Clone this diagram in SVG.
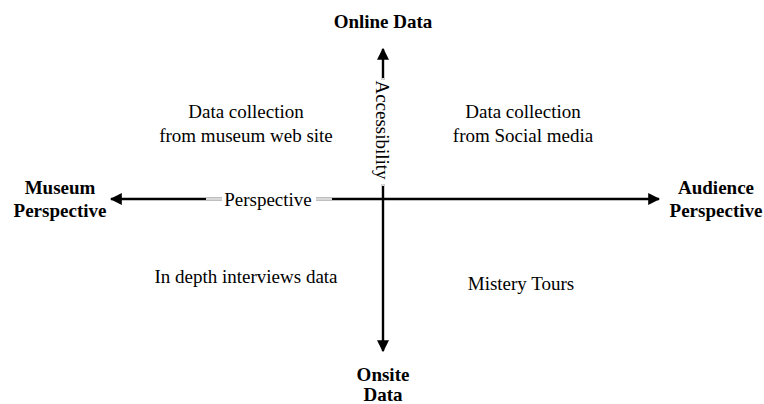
<svg xmlns="http://www.w3.org/2000/svg" width="764" height="404" viewBox="0 0 764 404">
<style>
.t{font-family:"Liberation Serif","Times New Roman",serif;font-size:19px;fill:#000;text-anchor:middle}
.b{font-weight:bold;font-size:19px}
.ax{stroke:#000;stroke-width:2.4;fill:none}
.lbl{stroke:#d8d8d8;stroke-width:2;fill:none}
</style>
<defs>
<marker id="ah" viewBox="0 0 10 10" refX="9" refY="5" markerWidth="5" markerHeight="5" orient="auto" markerUnits="strokeWidth">
<path d="M0,0 L10,5 L0,10 z" fill="#000"/>
</marker>
</defs>
<rect width="764" height="404" fill="#fff"/>
<g id="connectors">
<line class="ax" x1="383" y1="199" x2="383" y2="49" marker-end="url(#ah)"/>
<line class="ax" x1="383" y1="199" x2="383" y2="351" marker-end="url(#ah)"/>
<line class="ax" x1="383" y1="199" x2="111" y2="199" marker-end="url(#ah)"/>
<line class="ax" x1="383" y1="199" x2="659" y2="199" marker-end="url(#ah)"/>
<line class="lbl" x1="383" y1="78" x2="383" y2="186"/>
<rect x="376" y="80" width="14" height="104" fill="#fff"/>
<line class="lbl" x1="206" y1="199" x2="332" y2="199"/>
<rect x="222" y="189" width="94" height="20" fill="#fff"/>
<text class="t" transform="translate(376 130) rotate(90)" x="0" y="0">Accessibility</text>
<text class="t" x="268" y="206">Perspective</text>
</g>
<g id="online"><text class="t b" x="383" y="28">Online Data</text></g>
<g id="onsite"><text class="t b" x="383" y="381">Onsite</text><text class="t b" x="383" y="401">Data</text></g>
<g id="museum"><text class="t b" x="60" y="194">Museum</text><text class="t b" x="60" y="217">Perspective</text></g>
<g id="audience"><text class="t b" x="716" y="194">Audience</text><text class="t b" x="716" y="217">Perspective</text></g>
<g id="q1"><text class="t" x="246" y="118">Data collection</text><text class="t" x="246" y="142">from museum web site</text></g>
<g id="q2"><text class="t" x="523" y="118">Data collection</text><text class="t" x="523" y="142">from Social media</text></g>
<g id="q3"><text class="t" x="246" y="283">In depth interviews data</text></g>
<g id="q4"><text class="t" x="521" y="290">Mistery Tours</text></g>
</svg>
